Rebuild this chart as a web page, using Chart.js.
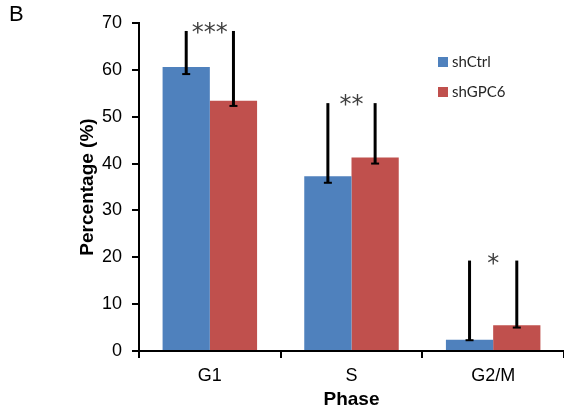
<!DOCTYPE html>
<html>
<head>
<meta charset="utf-8">
<title>Cell cycle phase</title>
<script src="https://cdn.jsdelivr.net/npm/chart.js@4.4.0/dist/chart.umd.min.js"></script>
<style>
    html, body { margin: 0; padding: 0; background: #fff; overflow: hidden; }
    #wrap { position: relative; width: 564px; height: 413px; }
</style>
</head>
<body>
<div id="wrap"><canvas id="phaseChart" width="564" height="413"></canvas></div>
<script>
// Data
var phases = ['G1', 'S', 'G2/M'];
var seriesNames = ['shCtrl', 'shGPC6'];
var ctrlValues = [60.6, 37.3, 2.4];
var gpc6Values = [53.4, 41.3, 5.5];
var ctrlErrLow = [59.1, 35.9, 2.3];
var ctrlErrHigh = [68.3, 52.9, 19.3];
var gpc6ErrLow = [52.3, 40.0, 5.0];
var gpc6ErrHigh = [68.3, 52.9, 19.3];
var sigMarks = ['***', '**', '*'];
var sigLevels = [69.4, 54.0, 20.0];
var yMin = 0, yMax = 70, yStep = 10;

var BLUE = '#4F81BD';
var RED = '#C0504D';
var ARIAL = '"Liberation Sans", Arial, sans-serif';
var CALIBRI = 'Lato, "Open Sans", sans-serif';

Chart.defaults.font.family = ARIAL;
Chart.defaults.color = '#000';

/**
 * Error bars: line from low to high with a small cap at the low end
 */
var errorBars = {
    id: 'errorBars',
    afterDatasetsDraw: function(chart) {
        var ctx = chart.ctx;
        var y = chart.scales.y;
        chart.data.datasets.forEach(function(ds, i) {
            var meta = chart.getDatasetMeta(i);
            meta.data.forEach(function(bar, j) {
                var yLow = y.getPixelForValue(ds.errLow[j]);
                var yHigh = y.getPixelForValue(ds.errHigh[j]);
                ctx.save();
                ctx.strokeStyle = '#000';
                ctx.lineWidth = 3;
                ctx.beginPath();
                ctx.moveTo(bar.x, yLow);
                ctx.lineTo(bar.x, yHigh);
                ctx.stroke();
                ctx.lineWidth = 2;
                ctx.beginPath();
                ctx.moveTo(bar.x - 4, yLow);
                ctx.lineTo(bar.x + 4, yLow);
                ctx.stroke();
                ctx.restore();
            });
        });
    }
};

/**
 * Significance stars, legend and panel letter
 */
var annotations = {
    id: 'annotations',
    afterDraw: function(chart) {
        var ctx = chart.ctx;
        var x = chart.scales.x;
        var y = chart.scales.y;
        ctx.save();

        // stars over each phase (level = centre of the glyphs)
        ctx.fillStyle = '#404040';
        ctx.font = '24px "DejaVu Sans", sans-serif';
        ctx.textAlign = 'center';
        ctx.textBaseline = 'alphabetic';
        sigMarks.forEach(function(mark, j) {
            ctx.fillText(mark, x.getPixelForValue(j), y.getPixelForValue(sigLevels[j]) + 14);
        });

        // legend inside plot
        ctx.font = '15px ' + CALIBRI;
        ctx.textAlign = 'left';
        ctx.textBaseline = 'middle';
        chart.data.datasets.forEach(function(ds, i) {
            var top = 57 + i * 30;
            ctx.fillStyle = ds.backgroundColor;
            ctx.fillRect(438, top, 10, 10);
            ctx.fillStyle = '#262626';
            ctx.fillText(ds.label, 452, top + 5);
        });

        // panel letter
        ctx.fillStyle = '#000';
        ctx.font = '22px ' + ARIAL;
        ctx.textBaseline = 'top';
        ctx.fillText('B', 9, 4);
        ctx.restore();
    }
};

var ctx = document.getElementById('phaseChart');
new Chart(ctx, {
    type: 'bar',
    data: {
        labels: phases,
        datasets: [{
            label: seriesNames[0],
            data: ctrlValues,
            errLow: ctrlErrLow,
            errHigh: ctrlErrHigh,
            backgroundColor: BLUE
        }, {
            label: seriesNames[1],
            data: gpc6Values,
            errLow: gpc6ErrLow,
            errHigh: gpc6ErrHigh,
            backgroundColor: RED
        }]
    },
    options: {
        responsive: false,
        animation: false,
        devicePixelRatio: 1,
        categoryPercentage: 0.667,
        barPercentage: 1.0,
        layout: { padding: { top: 23, right: 0, left: 0, bottom: 0 } },
        plugins: {
            legend: { display: false },
            tooltip: { enabled: false }
        },
        scales: {
            x: {
                grid: { drawOnChartArea: false, offset: true, tickLength: 7, color: '#000', lineWidth: 2 },
                border: { color: '#000', width: 2 },
                ticks: { font: { size: 18 }, color: '#000', padding: 7 },
                title: {
                    display: true,
                    text: 'Phase',
                    font: { size: 19, weight: 'bold' },
                    color: '#000',
                    padding: { top: 0, bottom: 2 }
                },
                afterFit: function(scale) { scale.height = 62; }
            },
            y: {
                min: yMin,
                max: yMax,
                grid: { drawOnChartArea: false, tickLength: 7, color: '#000', lineWidth: 2 },
                border: { color: '#000', width: 2 },
                ticks: { stepSize: yStep, font: { size: 18 }, color: '#000', padding: 10 },
                title: {
                    display: true,
                    text: 'Percentage (%)',
                    font: { size: 19, weight: 'bold' },
                    color: '#000',
                    padding: { top: 76, bottom: 0 }
                },
                afterFit: function(scale) { scale.width = 139; }
            }
        }
    },
    plugins: [errorBars, annotations]
});
</script>
</body>
</html>
